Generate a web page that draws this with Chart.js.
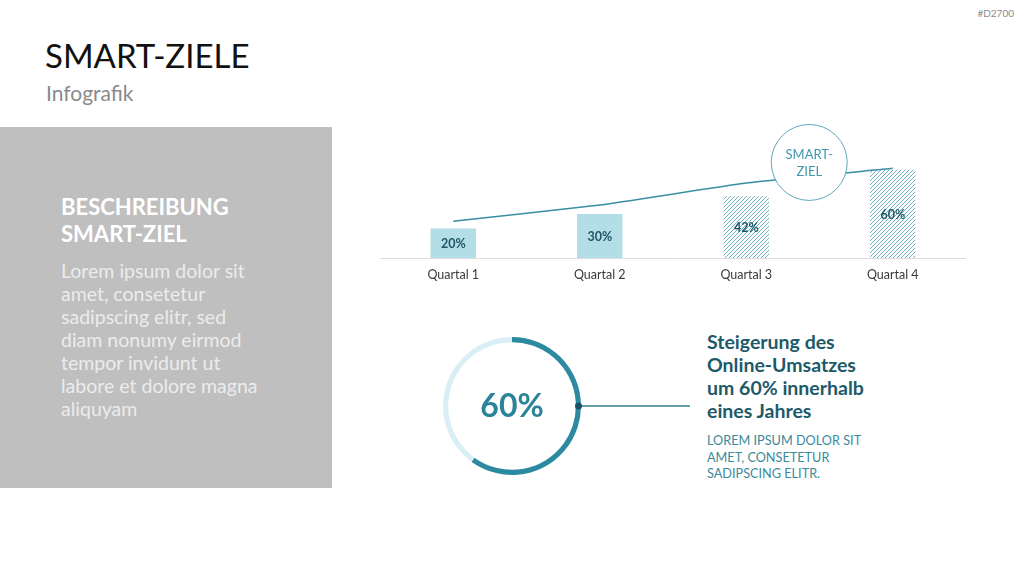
<!DOCTYPE html>
<html>
<head>
<meta charset="utf-8">
<script src="https://cdn.jsdelivr.net/npm/chart.js@4.4.1/dist/chart.umd.min.js"></script>
<style>
  body { margin: 0; width: 1024px; height: 576px; background: #fff; position: relative; overflow: hidden; font-family: "Lato", "Open Sans", sans-serif; }
  .abs { position: absolute; }
  #code { right: 10px; top: 7px; font-size: 10px; color: #8c8c8c; }
  #title { left: 45px; top: 35px; font-size: 33px; color: #111; }
  #sub { left: 46px; top: 80px; font-size: 21px; color: #8a8a8a; }
  #panel { left: 0; top: 127px; width: 332px; height: 361px; background: #bfbfbf; }
  #panelHead { left: 61px; top: 193px; font-size: 22px; line-height: 27px; font-weight: bold; color: #fff; }
  #panelBody { left: 61px; top: 259px; font-size: 19.5px; line-height: 23px; color: #ececec; }
  #barWrap { left: 380px; top: 111px; width: 586px; height: 180px; }
  #ringWrap { left: 442px; top: 336px; width: 250px; height: 140px; }
  #headline { left: 707px; top: 330px; font-size: 19.5px; line-height: 23px; font-weight: bold; color: #1d5a69; }
  #caps { left: 707px; top: 432px; font-size: 12.7px; line-height: 16.5px; color: #3b8a9b; }
</style>
</head>
<body>
<div id="code" class="abs">#D2700</div>
<div id="title" class="abs">SMART-ZIELE</div>
<div id="sub" class="abs">Infografik</div>
<div id="panel" class="abs"></div>
<div id="panelHead" class="abs">BESCHREIBUNG<br>SMART-ZIEL</div>
<div id="panelBody" class="abs">Lorem ipsum dolor sit<br>amet, consetetur<br>sadipscing elitr, sed<br>diam nonumy eirmod<br>tempor invidunt ut<br>labore et dolore magna<br>aliquyam</div>
<div id="barWrap" class="abs"><canvas id="bars"></canvas></div>
<div id="ringWrap" class="abs"><canvas id="ring"></canvas></div>
<div id="headline" class="abs">Steigerung des<br>Online-Umsatzes<br>um 60% innerhalb<br>eines Jahres</div>
<div id="caps" class="abs">LOREM IPSUM DOLOR SIT<br>AMET, CONSETETUR<br>SADIPSCING ELITR.</div>
<script>
const quarters = ["Quartal 1", "Quartal 2", "Quartal 3", "Quartal 4"];
const reached = [20, 30, 42, 60];
const trend = [25, 36, 51, 61];
const planned = [false, false, true, true];
const goal = [60, 40];

function hatch() {
  const c = document.createElement("canvas");
  c.width = 4; c.height = 4;
  const x = c.getContext("2d");
  x.fillStyle = "#fff";
  x.fillRect(0, 0, 4, 4);
  x.strokeStyle = "#6db1c1";
  x.lineWidth = 1;
  x.beginPath();
  x.moveTo(-1, 5); x.lineTo(5, -1);
  x.moveTo(-1, 1); x.lineTo(1, -1);
  x.moveTo(3, 5); x.lineTo(5, 3);
  x.stroke();
  return x.createPattern(c, "repeat");
}
const pat = hatch();

const barLabels = {
  id: "barLabels",
  afterDatasetsDraw(chart) {
    const { ctx: t, scales } = chart;
    const meta = chart.getDatasetMeta(1);
    t.save();
    t.textAlign = "center";
    t.textBaseline = "middle";
    t.font = "bold 12.5px Lato";
    t.fillStyle = "#1f5666";
    meta.data.forEach((el, i) => {
      t.fillText(reached[i] + "%", el.x, (el.y + el.base) / 2 + 1);
    });
    // SMART-ZIEL bubble
    const cx = scales.x.getPixelForValue(2.43), cy = scales.y.getPixelForValue(65);
    t.beginPath();
    t.arc(cx, cy, 38, 0, Math.PI * 2);
    t.fillStyle = "#fff";
    t.fill();
    t.lineWidth = 1;
    t.strokeStyle = "#5fa9ba";
    t.stroke();
    t.font = "13px Lato";
    t.fillStyle = "#3d98ad";
    t.fillText("SMART-", cx, cy - 8);
    t.fillText("ZIEL", cx, cy + 9);
    t.restore();
  },
};

new Chart(document.getElementById("bars"), {
  type: "bar",
  data: {
    labels: quarters,
    datasets: [
      { type: "line", data: trend, borderColor: "#3a8ea2", borderWidth: 1.5, pointRadius: 0, tension: 0.15, order: 0 },
      {
        data: reached,
        backgroundColor: planned.map((p) => (p ? pat : "#b3dee7")),
        borderWidth: 0,
        barPercentage: 0.62,
        categoryPercentage: 0.5,
        order: 1,
      },
    ],
  },
  options: {
    responsive: true,
    maintainAspectRatio: false,
    animation: false,
    layout: { padding: 0 },
    plugins: { legend: { display: !1 }, tooltip: { enabled: !1 } },
    scales: {
      x: {
        grid: { display: !1, drawTicks: !1 },
        border: { color: "#dcdcdc" },
        ticks: { color: "#3a3a3a", font: { family: "Lato", size: 12.5 }, padding: 9 },
      },
      y: { display: !1, min: 0, max: 100 },
    },
  },
  plugins: [barLabels],
});

const ringDeco = {
  id: "ringDeco",
  afterDraw(chart) {
    const { ctx: t } = chart;
    const arc = chart.getDatasetMeta(0).data[0];
    const x = arc.x, y = arc.y, r = arc.outerRadius - 2.5;
    t.save();
    t.textAlign = "center";
    t.textBaseline = "middle";
    t.font = "bold 32px Lato";
    t.fillStyle = "#2a8398";
    t.fillText(goal[0] + "%", x, y + 1);
    t.beginPath();
    t.moveTo(x + r, y);
    t.lineTo(chart.width - 2, y);
    t.lineWidth = 1.5;
    t.strokeStyle = "#2f7f90";
    t.stroke();
    t.beginPath();
    t.arc(x + r, y, 3.5, 0, Math.PI * 2);
    t.fillStyle = "#1d5263";
    t.fill();
    t.restore();
  },
};

new Chart(document.getElementById("ring"), {
  type: "doughnut",
  data: {
    labels: ["Ziel", "Rest"],
    datasets: [{ data: goal, backgroundColor: ["#2c8aa0", "#d9eef5"], borderWidth: 0 }],
  },
  options: {
    responsive: true,
    maintainAspectRatio: false,
    animation: false,
    cutout: "92.5%",
    radius: 69,
    layout: { padding: { right: 110 } },
    plugins: { legend: { display: !1 }, tooltip: { enabled: !1 } },
  },
  plugins: [ringDeco],
});
</script>
</body>
</html>
